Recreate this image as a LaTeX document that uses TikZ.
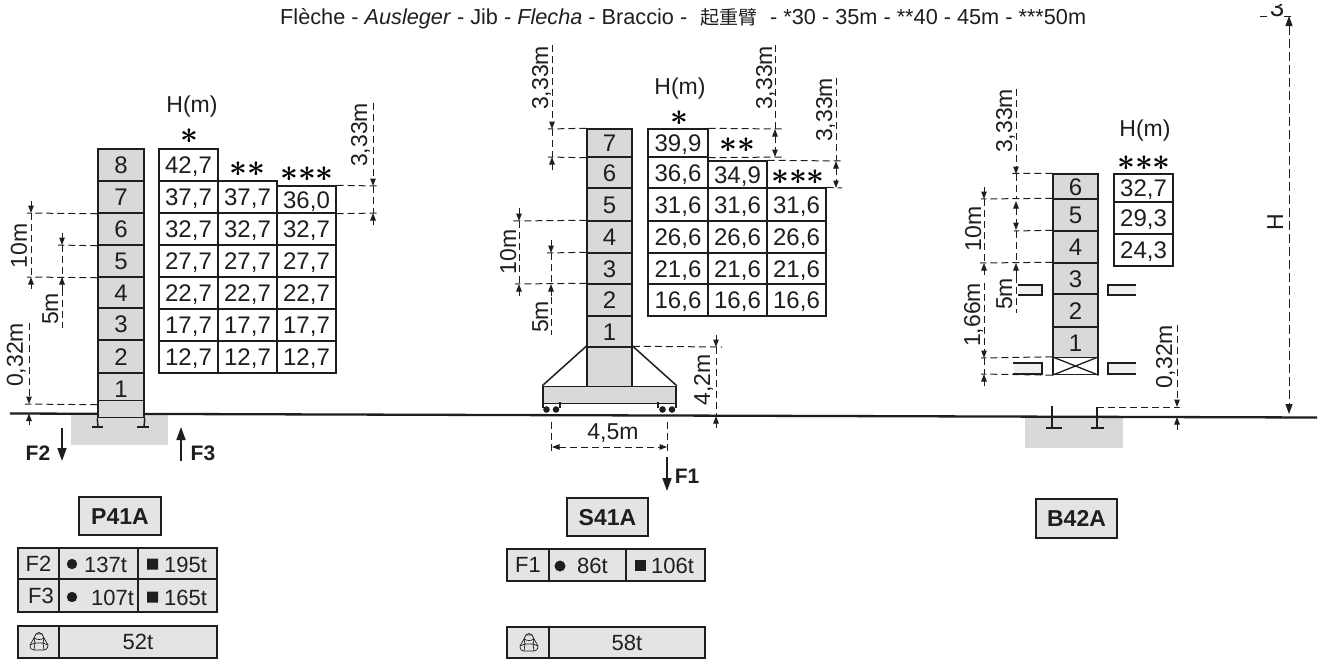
\documentclass[tikz,border=0pt]{standalone}
\usepackage{fontspec}
\setmainfont{Liberation Sans}
\newfontfamily\cjk{Noto Sans CJK SC}
\usetikzlibrary{arrows.meta}
\definecolor{ink}{HTML}{1E1E1E}
\definecolor{mastgrey}{HTML}{D8DAD8}
\definecolor{lightgrey}{HTML}{E3E5E3}
\newcommand\txt{\fontsize{22}{24}\selectfont}
\newcommand\txtb{\fontsize{24}{26}\selectfont}
\newcommand\txtc{\fontsize{23}{25}\selectfont}
\newcommand\stars[1]{\scalebox{3.1}{\boldmath$#1$}}
% \bx[style]{name}{x0}{y0}{x1}{y1}{text}
\newcommand\bx[7][mast]{\node[#1,minimum width={(#5)-(#3)},minimum height={(#6)-(#4)}] (#2) at ({(#3+#5)/2},{(#4+#6)/2}) {#7};}
% \cn[style]{name}{x1}{y1}{x2}{y2}: free connector between two named coordinates
\newcommand\cn[6][dimline]{\coordinate (#2a) at (#3,#4);\coordinate (#2b) at (#5,#6);\draw[#1] (#2a) -- (#2b);}
% \hd{anchor}{name}{x}{y}: dashed leader from a node to a free coordinate
\newcommand\hd[4]{\coordinate (#2) at (#3,#4);\draw[dimline] (#1) -- (#2);}
% \vl{name}{baseline x}{centre y}{text}
\newcommand\vl[4]{\node[dimlabel] (#1) at (#2,#3) {#4};}
\newcommand\weighticon[2]{\begin{scope}[shift={(#1,#2)},iconline]
\draw (-9,3) -- (-5,-4) -- (-3,-8) .. controls (-1,-10) and (1,-10) .. (3,-8) -- (5,-4) -- (9,3) .. controls (9,7) and (6,8) .. (5,8) -- (-5,8) .. controls (-7,8) and (-9,7) .. (-9,3) -- cycle;
\draw (-5,-4) -- (-4,1) -- (-5,8) (5,-4) -- (4,1) -- (5,8) (-5,-4) .. controls (-2,-2) and (2,-2) .. (5,-4) (-4,1) -- (4,1) (-9,3) -- (-4,1) (9,3) -- (4,1) (-3,-8) -- (3,-8);
\end{scope}}
\tikzset{
 tip/.tip={Triangle[length=7.5pt,width=5.5pt]},
 mast/.style={draw=ink,line width=1.5pt,fill=mastgrey,inner sep=0pt,text=ink,font=\txtb,text height=17pt,text depth=0pt},
 cell/.style={draw=ink,line width=1.4pt,fill=white,inner sep=0pt,text=ink,font=\txtb,text height=17pt,text depth=0pt},
 plain/.style={draw=ink,line width=1.4pt,fill=lightgrey,inner sep=0pt,text=ink,font=\txt,text height=15pt,text depth=0pt},
 title/.style={draw=ink,line width=1.8pt,fill=lightgrey,inner sep=0pt,text=ink,font=\txtc\bfseries,text height=16pt,text depth=0pt},
 dimline/.style={draw=ink,line width=1pt,dash pattern=on 7pt off 4pt},
 dimhead/.style={dimline,-{tip}},
 stub/.style={draw=ink,line width=1pt,-{tip}},
 double/.style={draw=ink,line width=1pt,dash pattern=on 7pt off 4pt,{tip}-{tip}},
 force/.style={draw=ink,line width=1.8pt,-{Triangle[length=13pt,width=9pt]}},
 dimlabel/.style={rotate=90,anchor=base,inner sep=0pt,text=ink,font=\txtc},
 free/.style={inner sep=0pt,text=ink,font=\txtc},
 tablevalue/.style={inner sep=0pt,text=ink,font=\txt,anchor=base west},
 forcelabel/.style={inner sep=0pt,text=ink,font=\fontsize{21}{23}\selectfont\bfseries},
 heading/.style={anchor=base west,inner sep=0pt,text=ink,font=\fontsize{21.7}{24}\selectfont},
 iconline/.style={draw=ink,line width=0.7pt},
 side/.style={draw=ink,line width=1.3pt},
}
\begin{document}
\begin{tikzpicture}[x=1pt,y=-1pt]
\useasboundingbox (0,0) rectangle (1325,659);
% heading
\node[heading] (h1) at (280,24) {Flèche - \textit{Ausleger} - Jib - \textit{Flecha} - Braccio -};
\node[heading,font=\cjk\fontsize{19}{24}\selectfont] (h2) at (700,24) {起重臂};
\node[heading] (h3) at (770,24) {- *30 - 35m - **40 - 45m - ***50m};
% foundations
\fill[mastgrey] (71,414) rectangle (168,445);
\fill[mastgrey] (1025,417) rectangle (1123,448);
% ground
\coordinate (g0) at (10,413.5);\coordinate (g1) at (1317,417.5);
\draw[ink,line width=2.3pt] (g0) -- (g1);

%%% P41A mast
\bx{p8}{98}{149}{144}{181}{8}
\bx{p7}{98}{181}{144}{213}{7}
\bx{p6}{98}{213}{144}{245}{6}
\bx{p5}{98}{245}{144}{277}{5}
\bx{p4}{98}{277}{144}{308}{4}
\bx{p3}{98}{308}{144}{340}{3}
\bx{p2}{98}{340}{144}{373}{2}
\bx{p1}{98}{373}{144}{404}{1}
\bx{p0}{98}{404}{144}{414}{}
\coordinate (pa) at (98,427);\coordinate (pb) at (144,427);
\draw[ink,line width=1.5pt] (p0.south west) -- (pa);
\draw[ink,line width=1.5pt] (p0.south east) -- (pb);
\draw[ink,line width=1.9pt] (92,427) -- (103,427) (137,427) -- (149,427);
%%% P41A table
\bx[cell]{pa8}{159}{149}{218}{181}{42,7}
\bx[cell]{pa7}{159}{181}{218}{213}{37,7}
\bx[cell]{pb7}{218}{181}{277}{213}{37,7}
\bx[cell]{pc7}{277}{186}{336}{213}{36,0}
\bx[cell]{pa6}{159}{213}{218}{245}{32,7}
\bx[cell]{pb6}{218}{213}{277}{245}{32,7}
\bx[cell]{pc6}{277}{213}{336}{245}{32,7}
\bx[cell]{pa5}{159}{245}{218}{277}{27,7}
\bx[cell]{pb5}{218}{245}{277}{277}{27,7}
\bx[cell]{pc5}{277}{245}{336}{277}{27,7}
\bx[cell]{pa4}{159}{277}{218}{309}{22,7}
\bx[cell]{pb4}{218}{277}{277}{309}{22,7}
\bx[cell]{pc4}{277}{277}{336}{309}{22,7}
\bx[cell]{pa3}{159}{309}{218}{341}{17,7}
\bx[cell]{pb3}{218}{309}{277}{341}{17,7}
\bx[cell]{pc3}{277}{309}{336}{341}{17,7}
\bx[cell]{pa2}{159}{341}{218}{373}{12,7}
\bx[cell]{pb2}{218}{341}{277}{373}{12,7}
\bx[cell]{pc2}{277}{341}{336}{373}{12,7}
\node[free] (phm) at (192,107) {H(m)};
\node[inner sep=0pt] (ps1) at (189,136) {\stars{\ast}};
\node[inner sep=0pt] (ps2) at (247,169) {\stars{{\ast}{\ast}}};
\node[inner sep=0pt] (ps3) at (307,174) {\stars{{\ast}{\ast}{\ast}}};
%%% P41A dimensions
\hd{p7.south west}{pd1}{27}{213}
\hd{p5.south west}{pd2}{27}{277}
\hd{p6.south west}{pd3}{58}{245}
\hd{p1.south west}{pd4}{25}{404}
\hd{pc7.north east}{pd5}{378}{186}
\hd{pc7.south east}{pd6}{378}{213}
\cn{pv1}{31}{213}{31}{277}
\cn[stub]{pv1t}{31}{201}{31}{213}
\cn[stub]{pv1b}{31}{289}{31}{277}
\cn{pv2}{62}{245}{62}{328}
\cn[stub]{pv2t}{62}{233}{62}{245}
\cn[stub]{pv2b}{62}{289}{62}{277}
\cn[dimhead]{pv3}{29}{323}{29}{404}
\cn[stub]{pv3b}{29}{425}{29}{413.5}
\cn[dimhead]{pv4}{373}{103}{373}{186}
\cn{pv4m}{373}{186}{373}{213}
\cn[stub]{pv4b}{373}{225}{373}{213}
\vl{pl1}{27}{246}{10m}
\vl{pl2}{58}{309}{5m}
\vl{pl3}{23}{355}{0,32m}
\vl{pl4}{367}{135}{3,33m}
\cn[force]{pf2}{62}{428}{62}{461}
\cn[force]{pf3}{181}{461}{181}{427}
\node[forcelabel] (pfl2) at (38,453) {F2};
\node[forcelabel] (pfl3) at (203,453) {F3};

%%% S41A mast
\bx{s7}{587}{129}{632}{157}{7}
\bx{s6}{587}{157}{632}{188}{6}
\bx{s5}{587}{188}{632}{221}{5}
\bx{s4}{587}{221}{632}{253}{4}
\bx{s3}{587}{253}{632}{284}{3}
\bx{s2}{587}{284}{632}{316}{2}
\bx{s1}{587}{316}{632}{347}{1}
\bx{s0}{587}{347}{632}{388}{}
\bx{splat}{543}{388}{676}{402}{}
\draw[ink,line width=1.5pt] (s0.north west) -- (splat.north west);
\draw[ink,line width=1.5pt] (s0.north east) -- (splat.north east);
\draw[ink,line width=1.4pt] (543,402) -- (543,408) (560,402) -- (560,408) (658,402) -- (658,408) (676,402) -- (676,408);
\fill[ink] (546.5,409.5) circle (3.3) (556,409.5) circle (3.3) (662.5,409.5) circle (3.3) (672,409.5) circle (3.3);
%%% S41A table
\bx[cell]{sa7}{648}{129}{708}{157}{39,9}
\bx[cell]{sa6}{648}{157}{708}{188}{36,6}
\bx[cell]{sb6}{708}{161}{767}{188}{34,9}
\bx[cell]{sa5}{648}{188}{708}{221}{31,6}
\bx[cell]{sb5}{708}{188}{767}{221}{31,6}
\bx[cell]{sc5}{767}{188}{826}{221}{31,6}
\bx[cell]{sa4}{648}{221}{708}{253}{26,6}
\bx[cell]{sb4}{708}{221}{767}{253}{26,6}
\bx[cell]{sc4}{767}{221}{826}{253}{26,6}
\bx[cell]{sa3}{648}{253}{708}{284}{21,6}
\bx[cell]{sb3}{708}{253}{767}{284}{21,6}
\bx[cell]{sc3}{767}{253}{826}{284}{21,6}
\bx[cell]{sa2}{648}{284}{708}{316}{16,6}
\bx[cell]{sb2}{708}{284}{767}{316}{16,6}
\bx[cell]{sc2}{767}{284}{826}{316}{16,6}
\node[free] (shm) at (680,89) {H(m)};
\node[inner sep=0pt] (ss1) at (679,118) {\stars{\ast}};
\node[inner sep=0pt] (ss2) at (737,145) {\stars{{\ast}{\ast}}};
\node[inner sep=0pt] (ss3) at (798,177) {\stars{{\ast}{\ast}{\ast}}};
%%% S41A dimensions
\hd{s7.north west}{sd1}{548}{129}
\hd{s7.south west}{sd2}{548}{157}
\hd{sa7.north east}{sd3}{782}{129}
\hd{sa7.south east}{sd4}{782}{157}
\hd{sb6.north east}{sd5}{842}{161}
\hd{sc5.north east}{sd6}{842}{188}
\hd{s4.north west}{sd7}{513}{221}
\hd{s2.north west}{sd8}{515}{284}
\hd{s3.north west}{sd9}{547}{253}
\hd{s0.north east}{sd10}{722}{347}
\cn[dimhead]{sv1}{552}{45}{552}{129}
\cn{sv1m}{552}{129}{552}{157}
\cn[stub]{sv1b}{552}{170}{552}{157}
\cn{sv2}{775}{45}{775}{129}
\cn[double]{sv2m}{775}{129}{775}{157}
\cn{sv3}{836}{78}{836}{161}
\cn[double]{sv3m}{836}{161}{836}{188}
\cn{sv4}{519}{221}{519}{284}
\cn[stub]{sv4t}{519}{208}{519}{221}
\cn[stub]{sv4b}{519}{296}{519}{284}
\cn{sv5}{551}{253}{551}{335}
\cn[stub]{sv5t}{551}{240}{551}{253}
\cn[stub]{sv5b}{551}{296}{551}{284}
\cn{sv6}{716}{347}{716}{416}
\cn[stub]{sv6t}{716}{335}{716}{347}
\cn[stub]{sv6b}{716}{428}{716}{416}
\cn[double]{sh1}{552}{447}{667}{447}
\cn{sh1l}{551}{422}{551}{453}
\cn{sh1r}{667}{422}{667}{453}
\vl{sl1}{548}{78}{3,33m}
\vl{sl2}{772}{78}{3,33m}
\vl{sl3}{832}{110}{3,33m}
\vl{sl4}{516}{252}{10m}
\vl{sl5}{548}{317}{5m}
\vl{sl6}{710}{380}{4,2m}
\node[free] (sl7) at (613,433) {4,5m};
\cn[force]{sf1}{667}{457}{667}{491}
\node[forcelabel] (sfl1) at (687,476) {F1};

%%% B42A mast
\bx{b6}{1053}{174}{1098}{199}{6}
\bx{b5}{1053}{199}{1098}{231}{5}
\bx{b4}{1053}{231}{1098}{263}{4}
\bx{b3}{1053}{263}{1098}{294}{3}
\bx{b2}{1053}{294}{1098}{327}{2}
\bx{b1}{1053}{327}{1098}{358}{1}
\bx[cell]{b0}{1053}{358}{1098}{374}{}
\draw[ink,line width=1.3pt] (b0.north west) -- (b0.south east) (b0.south west) -- (b0.north east);
\fill[lightgrey!60!white] (1019,286) rectangle (1042,295) (1108,286) rectangle (1136,295) (1014,364) rectangle (1042,374) (1108,364) rectangle (1136,374);
\draw[side] (1018,285) -- (1042,285) -- (1042,295) -- (1018,295);
\draw[side] (1136,285) -- (1108,285) -- (1108,295) -- (1136,295);
\draw[side] (1013,363) -- (1042,363) -- (1042,374) -- (1013,374);
\draw[side] (1136,363) -- (1108,363) -- (1108,374) -- (1136,374);
\coordinate (bp1) at (1052,406);\coordinate (bp1b) at (1052,428);
\coordinate (bp2) at (1097,407);\coordinate (bp2b) at (1097,428);
\draw[ink,line width=1.5pt] (bp1) -- (bp1b);
\draw[ink,line width=1.5pt] (bp2) -- (bp2b);
\draw[ink,line width=1.9pt] (1046,428) -- (1062,428) (1091,428) -- (1104,428);
%%% B42A table
\bx[cell]{bt3}{1114}{174}{1173}{202}{32,7}
\bx[cell]{bt2}{1114}{202}{1173}{234}{29,3}
\bx[cell]{bt1}{1114}{234}{1173}{266}{24,3}
\node[free] (bhm) at (1145,131) {H(m)};
\node[inner sep=0pt] (bs) at (1144,163) {\stars{{\ast}{\ast}{\ast}}};
%%% B42A dimensions
\hd{b6.north west}{bd1}{1012}{173.5}
\hd{b5.north west}{bd2}{981}{199}
\hd{b4.north west}{bd3}{1014}{231}
\hd{b3.north west}{bd4}{980}{263}
\hd{b0.north west}{bd5}{981}{358}
\hd{b0.south west}{bd6}{981}{374}
\hd{bp2}{bd7}{1180}{407}
\cn[dimhead]{bv1}{1016}{89}{1016}{174}
\cn{bv1m}{1016}{174}{1016}{199}
\cn[double]{bv1n}{1016}{201}{1016}{230}
\cn{bv1o}{1016}{231}{1016}{263}
\cn[stub]{bv1p}{1016}{276}{1016}{263}
\cn{bv1q}{1016}{276}{1016}{313}
\cn{bv2}{984}{199}{984}{263}
\cn[stub]{bv2t}{984}{187}{984}{199}
\cn[stub]{bv2b}{984}{275}{984}{263}
\cn[dimhead]{bv3}{984}{283}{984}{358}
\cn{bv3m}{984}{358}{984}{374}
\cn[stub]{bv3b}{984}{386}{984}{374}
\cn[dimhead]{bv4}{1177}{325}{1177}{407}
\cn[stub]{bv4b}{1177}{430}{1177}{417}
\coordinate (ht) at (1289,16);\coordinate (hb) at (1289,414);
\draw[dimline,{Triangle[length=10pt,width=7pt]}-{Triangle[length=10pt,width=7pt]},dash pattern=on 9pt off 4pt] (ht) -- (hb);
\vl{bl1}{1012}{121}{3,33m}
\vl{bl2}{981}{229}{10m}
\vl{bl3}{1012}{294}{5m}
\vl{bl4}{980}{315}{1,66m}
\vl{bl5}{1172}{357}{0,32m}
\vl{bl6}{1283}{222}{H}
% clipped figure at the top right
\begin{scope}
\clip (1262,4) rectangle (1292,20);
\node[anchor=base,inner sep=0pt,text=ink,font=\fontsize{26}{26}\selectfont] (top3) at (1277,16) {3};
\end{scope}
\draw[dimline] (1260,16) -- (1270,16) (1284,16) -- (1293,16);

%%% name plates
\bx[title]{np}{79}{497}{161}{535}{P41A}
\bx[title]{ns}{567}{498}{648}{536}{S41A}
\bx[title]{nb}{1036}{499}{1117}{538}{B42A}
%%% force tables
\bx[plain]{f2a}{18}{548}{59}{579}{F2}
\bx[plain]{f2b}{59}{548}{138}{579}{}
\bx[plain]{f2c}{138}{548}{217}{579}{}
\bx[plain]{f3a}{18}{579}{59}{612}{\hspace*{5pt}F3}
\bx[plain]{f3b}{59}{579}{138}{612}{}
\bx[plain]{f3c}{138}{579}{217}{612}{}
\bx[plain]{wa}{18}{626}{59}{658}{}
\bx[plain]{wb}{59}{626}{217}{658}{52t}
\weighticon{39}{642}
\fill[ink] (72,564) circle (5.2) (72,597) circle (5.2);
\fill[ink] (147,558.5) rectangle (158,569.5) (147,591.5) rectangle (158,602.5);
\node[tablevalue] (v1) at (84,572) {137t};
\node[tablevalue] (v2) at (164,572) {195t};
\node[tablevalue] (v3) at (91,605) {107t};
\node[tablevalue] (v4) at (164,605) {165t};
\bx[plain]{f1a}{507}{549}{549}{581}{F1}
\bx[plain]{f1b}{549}{549}{626}{581}{}
\bx[plain]{f1c}{626}{549}{705}{581}{}
\bx[plain]{xa}{507}{627}{549}{658}{}
\bx[plain]{xb}{549}{627}{705}{658}{58t}
\weighticon{529}{643}
\fill[ink] (560,566) circle (5.5);
\fill[ink] (634.5,560) rectangle (646,571);
\node[tablevalue] (v5) at (577,573) {86t};
\node[tablevalue] (v6) at (651,573) {106t};
\end{tikzpicture}
\end{document}
